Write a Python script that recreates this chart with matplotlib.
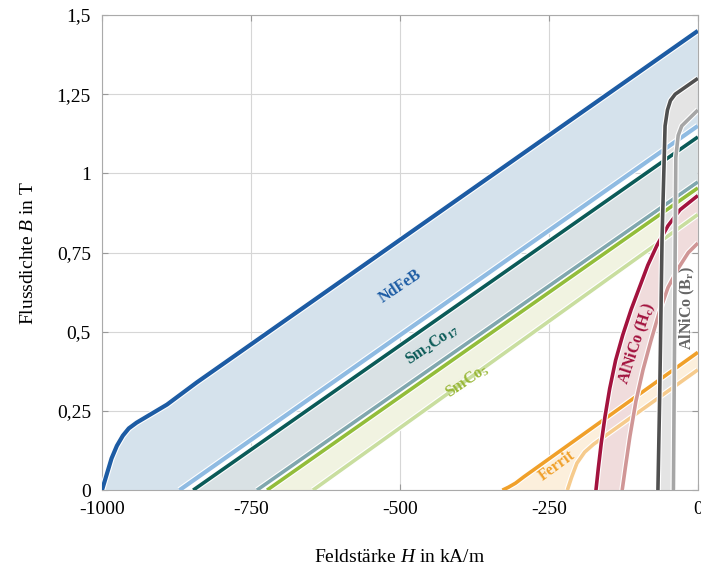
import matplotlib
matplotlib.use("Agg")
import matplotlib.pyplot as plt
import matplotlib.patheffects as pe

plt.rcParams['font.family'] = ['Liberation Serif', 'DejaVu Serif']
plt.rcParams['mathtext.fontset'] = 'custom'
plt.rcParams['mathtext.rm'] = 'Liberation Serif'
plt.rcParams['mathtext.it'] = 'Liberation Serif:italic'
plt.rcParams['mathtext.bf'] = 'Liberation Serif:bold'

# demagnetisation curves, H in kA/m, B in T
ndfeb_h = [-1000, -992, -984, -975, -965, -955, -942, -925, -891, -841, 0]
ndfeb_b = [0, 0.05, 0.1, 0.14, 0.172, 0.195, 0.213, 0.232, 0.27, 0.34, 1.45]
ndfeb_low_h = [-870, 0]
ndfeb_low_b = [0, 1.15]

smco17_h = [-847, 0]
smco17_b = [0, 1.115]
smco17_low_h = [-740, 0]
smco17_low_b = [0, 0.973]

smco5_h = [-723, 0]
smco5_b = [0, 0.954]
smco5_low_h = [-646, 0]
smco5_low_b = [0, 0.87]

ferrit_h = [-328, -318, -306, -292, 0]
ferrit_b = [0, 0.009, 0.022, 0.042, 0.435]
ferrit_low_h = [-219, -212, -203, -190, -175, 0]
ferrit_low_b = [0, 0.04, 0.085, 0.12, 0.145, 0.38]

alnico_hc_h = [-171, -167, -162, -156, -148, -138, -126, -112, -98, -84, -68, -50, -30, 0]
alnico_hc_b = [0, 0.07, 0.15, 0.23, 0.32, 0.41, 0.49, 0.57, 0.64, 0.71, 0.775, 0.835, 0.885, 0.93]
alnico_hc_low_h = [-127, -121, -114, -104, -92, -79, -65, -50, -33, -16, 0]
alnico_hc_low_b = [0, 0.08, 0.17, 0.28, 0.38, 0.47, 0.56, 0.64, 0.70, 0.75, 0.78]

alnico_br_h = [-67, -64, -60, -55, -51, -46, -38, 0]
alnico_br_b = [0, 0.3, 0.8, 1.15, 1.2, 1.23, 1.25, 1.30]
alnico_br_low_h = [-41, -39, -37, -33, -27, 0]
alnico_br_low_b = [0, 0.5, 1.05, 1.12, 1.15, 1.2]

x_ticks = [-1000, -750, -500, -250, 0]
x_labels = ['-1000', '-750', '-500', '-250', '0']
y_ticks = [0, 0.25, 0.5, 0.75, 1, 1.25, 1.5]
y_labels = ['0', '0,25', '0,5', '0,75', '1', '1,25', '1,5']

fig = plt.figure(figsize=(7.01, 5.78), dpi=100)
ax = fig.add_axes([0.1455, 0.152, 0.85, 0.822])


def band(h_top, b_top, h_low, b_low, fill, c_top, c_low, lw=2.6):
    xs = list(h_top) + list(h_low)[::-1]
    ys = list(b_top) + list(b_low)[::-1]
    ax.fill(xs, ys, color=fill, lw=0, zorder=1)
    halo = [pe.withStroke(linewidth=lw + 1.6, foreground='white')]
    ax.plot(h_low, b_low, color=c_low, lw=lw, zorder=3, path_effects=halo,
            solid_capstyle='butt', solid_joinstyle='round')
    ax.plot(h_top, b_top, color=c_top, lw=lw, zorder=3, path_effects=halo,
            solid_capstyle='butt', solid_joinstyle='round')


band(ndfeb_h, ndfeb_b, ndfeb_low_h, ndfeb_low_b, '#d5e2ec', '#1d5ca4', '#8fbbe2', lw=3.0)
band(smco17_h, smco17_b, smco17_low_h, smco17_low_b, '#d9e1e4', '#0b5b58', '#80a7ae')
band(smco5_h, smco5_b, smco5_low_h, smco5_low_b, '#f1f3e1', '#93bd3a', '#c9de9f')
band(ferrit_h, ferrit_b, ferrit_low_h, ferrit_low_b, '#fcefdc', '#f0a02a', '#f6cb8d')
band(alnico_hc_h, alnico_hc_b, alnico_hc_low_h, alnico_hc_low_b, '#f0dcdc', '#a3133e', '#d09696')
band(alnico_br_h, alnico_br_b, alnico_br_low_h, alnico_br_low_b, '#e4e4e4', '#505050', '#a6a6a6')

lab = dict(fontsize=11.5, fontweight='bold', ha='center', va='center',
           rotation_mode='anchor', zorder=4)
ax.text(-500, 0.645, 'NdFeB', color='#1d5ca4', rotation=34, **lab)
ax.text(-446, 0.458, r'Sm$_\mathbf{2}$Co$_\mathbf{17}$', color='#0b5b58', rotation=34, **lab)
ax.text(-386, 0.345, r'SmCo$_\mathbf{5}$', color='#9ab83a', rotation=34, **lab)
ax.text(-237, 0.077, 'Ferrit', color='#f0a02a', rotation=36, **lab)
ax.text(-102, 0.462, r'AlNiCo (H$_\mathbf{c}$)', color='#a3133e', rotation=72, **lab)
ax.text(-17, 0.575, r'AlNiCo (B$_\mathbf{r}$)', color='#666666', rotation=90, **lab)

ax.set_xlim(-1000, 0)
ax.set_ylim(0, 1.5)
ax.set_xticks(x_ticks)
ax.set_xticklabels(x_labels)
ax.set_yticks(y_ticks)
ax.set_yticklabels(y_labels)
ax.grid(True, color='#d6d6d6', lw=0.8, zorder=0)
ax.set_axisbelow(True)
ax.tick_params(direction='in', length=4, color='#999999', labelsize=14,
               right=True, top=True, pad=8)
for s in ax.spines.values():
    s.set_color('#aaaaaa')
    s.set_linewidth(0.8)

ax.set_xlabel('Feldstärke $H$ in kA/m', fontsize=14, labelpad=22)
ax.set_ylabel('Flussdichte $B$ in T', fontsize=14, labelpad=14)

fig.savefig('out.png', dpi=100)
